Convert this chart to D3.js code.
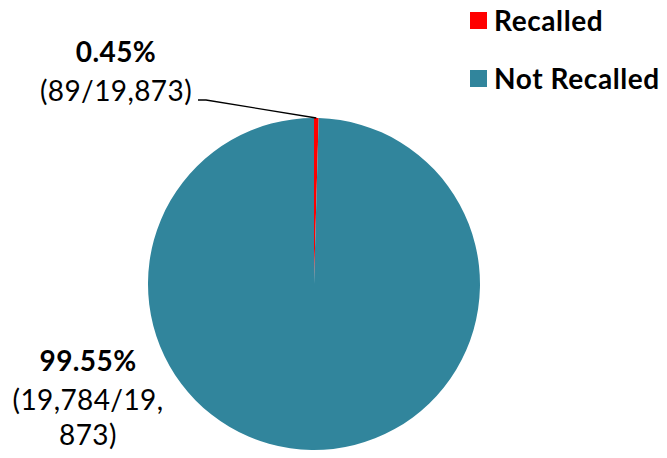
<!DOCTYPE html>
<html><head><meta charset="utf-8">
<script src="https://cdn.jsdelivr.net/npm/d3@7"></script>
<style>body{margin:0;background:#fff}text{font-family:Lato,"Open Sans",sans-serif}</style>
</head><body><svg id="c" width="667" height="458"></svg>
<script>
const categories = ["Recalled", "Not Recalled"];
const values = [89, 19784];
const total = 19873;
const percentLabels = ["0.45%", "99.55%"];
const countLabels = [["(89/19,873)"], ["(19,784/19,", "873)"]];
const colors = ["#FF0000", "#31859C"];

const svg = d3.select("#c");
const cx = 314, cy = 284, r = 166;
const pie = d3.pie().sort(null).value(d => d)(values);
const arc = d3.arc().innerRadius(0).outerRadius(r);
const g = svg.append("g").attr("transform", `translate(${cx},${cy})`);
g.selectAll("path").data(pie).join("path")
  .attr("d", arc).attr("fill", (d, i) => colors[i]);

// leader line for small slice
const mid = (pie[0].startAngle + pie[0].endAngle) / 2;
const px = cx + Math.sin(mid) * r, py = cy - Math.cos(mid) * r;
svg.append("polyline")
  .attr("points", `${198},${100} ${206},${100} ${px},${py}`)
  .attr("fill", "none").attr("stroke", "#000").attr("stroke-width", 1.3);

// labels
const lab = svg.append("g").attr("fill", "#000").attr("letter-spacing", 0.4);
lab.append("text").attr("x", 116).attr("y", 62).attr("text-anchor", "middle")
  .attr("font-size", 28).attr("font-weight", "bold").text(percentLabels[0]);
lab.append("text").attr("x", 116).attr("y", 101).attr("text-anchor", "middle")
  .attr("font-size", 28).text(countLabels[0][0]);
lab.append("text").attr("x", 88).attr("y", 371).attr("text-anchor", "middle")
  .attr("font-size", 28).attr("font-weight", "bold").text(percentLabels[1]);
countLabels[1].forEach((t, i) => {
  lab.append("text").attr("x", 88).attr("y", 410 + i * 35).attr("text-anchor", "middle")
    .attr("font-size", 28).text(t);
});

// legend
const leg = svg.append("g");
categories.forEach((c, i) => {
  const y = 12 + i * 58;
  leg.append("rect").attr("x", 470).attr("y", y).attr("width", 17).attr("height", 17).attr("fill", colors[i]);
  leg.append("text").attr("x", 494).attr("y", y + 19).attr("font-size", 28)
    .attr("letter-spacing", 0.6)
    .attr("font-weight", "bold").attr("fill", "#000").text(c);
});
</script></body></html>
